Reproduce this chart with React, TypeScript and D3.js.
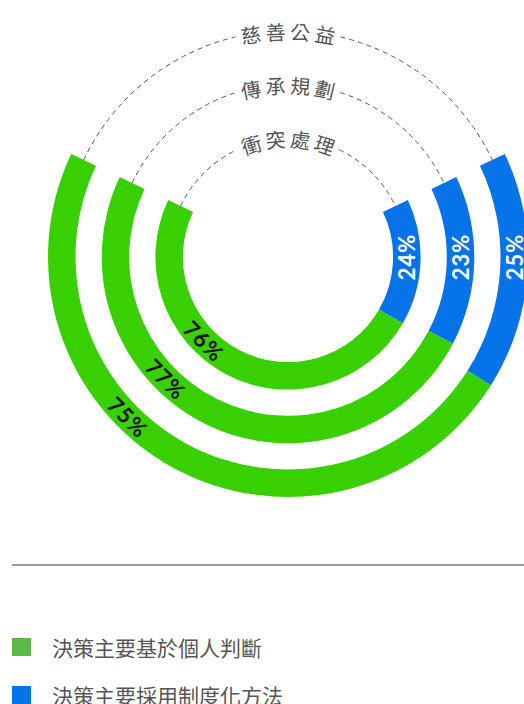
import React, { useEffect } from "react";
import * as d3 from "d3";

const categories = ["衝突處理", "傳承規劃", "慈善公益"];
const personalValues = [76, 77, 75];
const institutionalValues = [24, 23, 25];
const seriesNames = ["決策主要基於個人判斷", "決策主要採用制度化方法"];
const ringColors = ["#38d000", "#0773e8"];
const legendColors = ["#5bb947", "#0773e8"];

const W = 524;
const H = 704;
const cx = 288;
const cy = 257;
const outerR = 240;
const ringWidth = 27.5;
const ringStep = 53.7;
const halfSpanDeg = 64.6;

export default function App() {
  useEffect(() => {
    document.body.style.margin = "0";
  }, []);

  const toRad = (d: number) => (d * Math.PI) / 180;
  const spanRad = toRad(360 - 2 * halfSpanDeg);
  const startRad = toRad(halfSpanDeg);

  const ringIndex = d3.scaleLinear().domain([categories.length - 1, 0]).range([outerR, outerR - ringStep * (categories.length - 1)]);
  const share = d3.scaleLinear().domain([0, 100]).range([0, spanRad]);
  const arc = d3.arc<any>();

  const pos = (r: number, deg: number) => [cx + r * Math.sin(toRad(deg)), cy - r * Math.cos(toRad(deg))];
  // open arc path, angles in degrees clockwise from 12 o'clock
  const openArc = (r: number, a0: number, a1: number) => {
    const p = d3.path();
    const s = toRad(a0) - Math.PI / 2;
    const e = toRad(a1) - Math.PI / 2;
    p.moveTo(cx + r * Math.cos(s), cy + r * Math.sin(s));
    p.arc(cx, cy, r, s, e, false);
    return p.toString();
  };

  return (
    <svg width={W} height={H} style={{ display: "block" }} fontFamily="'Noto Sans CJK TC', 'Noto Sans', sans-serif">
      {categories.map((cat, i) => {
        const rO = ringIndex(i);
        const rI = rO - ringWidth;
        const rM = (rO + rI) / 2;
        const blueEnd = startRad + share(institutionalValues[i]);
        const greenEnd = blueEnd + share(personalValues[i]);
        const blueArc = arc({ innerRadius: rI, outerRadius: rO, startAngle: startRad, endAngle: blueEnd });
        const greenArc = arc({ innerRadius: rI, outerRadius: rO, startAngle: blueEnd, endAngle: greenEnd });
        const gapDeg = ((48 + 5) / rM) * (180 / Math.PI);
        const pathId = `lbl-${i}`;
        const [bx, by] = pos(rM, 90);
        const [gx, gy] = pos(rM, 225);
        return (
          <g key={cat}>
            <path d={greenArc || ""} transform={`translate(${cx},${cy})`} fill={ringColors[0]} />
            <path d={blueArc || ""} transform={`translate(${cx},${cy})`} fill={ringColors[1]} />
            <path d={openArc(rM, -halfSpanDeg, -gapDeg)} fill="none" stroke="#555" strokeWidth={1} strokeDasharray="5,4" />
            <path d={openArc(rM, gapDeg, halfSpanDeg)} fill="none" stroke="#555" strokeWidth={1} strokeDasharray="5,4" />
            <path id={pathId} d={`M ${cx - rM},${cy} A ${rM},${rM} 0 0 1 ${cx + rM},${cy}`} fill="none" />
            <text fontSize={20} fill="#555" letterSpacing={5} dominantBaseline="central" dx={2.5}>
              <textPath href={`#${pathId}`} startOffset="50%" textAnchor="middle">
                {cat}
              </textPath>
            </text>
            <text
              x={bx}
              y={by}
              transform={`rotate(-90 ${bx} ${by})`}
              textAnchor="middle"
              dominantBaseline="central"
              fontFamily="Lato, sans-serif"
              fontWeight="bold"
              fontSize={22}
              letterSpacing={1}
              fill="#fff"
            >
              {institutionalValues[i]}%
            </text>
            <text
              x={gx}
              y={gy}
              transform={`rotate(45 ${gx} ${gy})`}
              textAnchor="middle"
              dominantBaseline="central"
              fontFamily="Lato, sans-serif"
              fontWeight="bold"
              fontSize={22}
              letterSpacing={1}
              fill="#111"
            >
              {personalValues[i]}%
            </text>
          </g>
        );
      })}
      <line x1={12} x2={W} y1={565} y2={565} stroke="#7a7a7a" strokeWidth={1.5} />
      {seriesNames.map((name, i) => (
        <g key={name} transform={`translate(12, ${638 + i * 48})`}>
          <rect width={19} height={18} fill={legendColors[i]} />
          <text x={40} y={9} dominantBaseline="central" fontSize={21} fill="#555">
            {name}
          </text>
        </g>
      ))}
    </svg>
  );
}
